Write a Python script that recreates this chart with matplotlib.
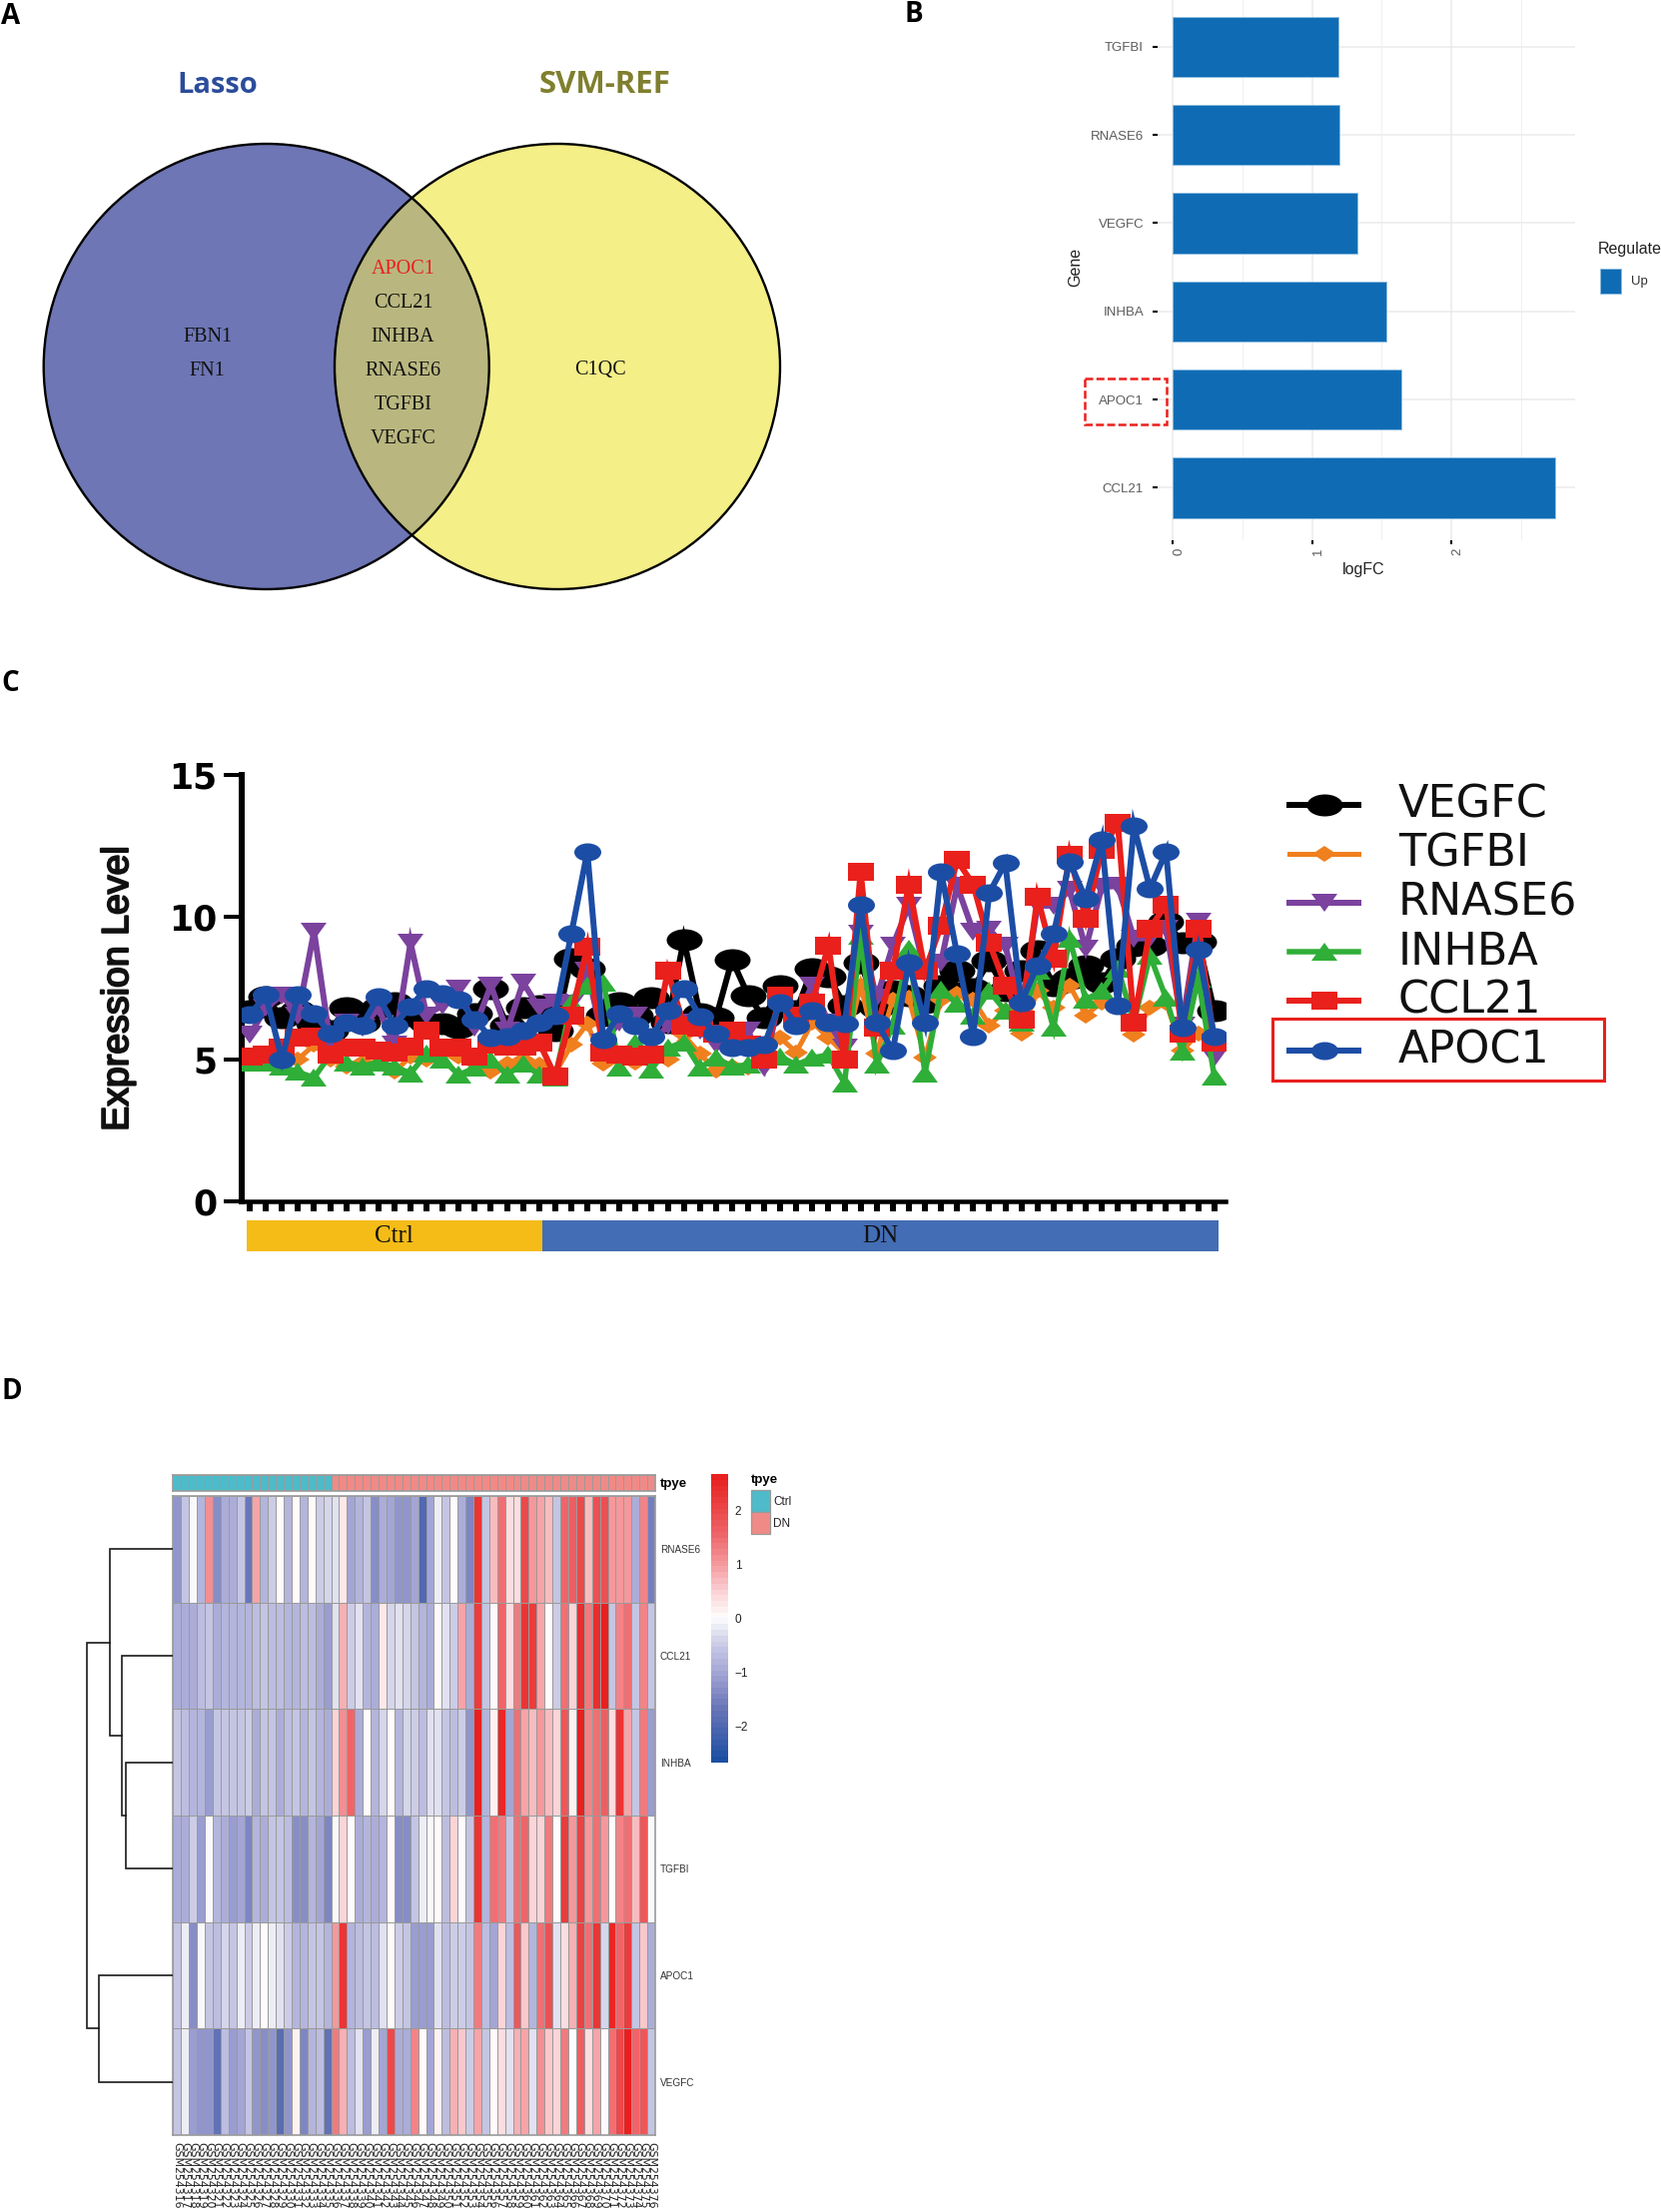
import numpy as np
import matplotlib
matplotlib.use('Agg')
import matplotlib.pyplot as plt
import matplotlib.patheffects as pe
from matplotlib.colors import LinearSegmentedColormap, ListedColormap
from matplotlib.markers import MarkerStyle
from matplotlib.patches import Circle, Rectangle
from matplotlib.transforms import Affine2D

W, H = 1663, 2215
PX = 0.72  # points per pixel at dpi 100

# panel A
lasso_only = ['FBN1', 'FN1']
shared = ['APOC1', 'CCL21', 'INHBA', 'RNASE6', 'TGFBI', 'VEGFC']
svm_only = ['C1QC']

# panel B
bar_genes = ['CCL21', 'APOC1', 'INHBA', 'VEGFC', 'RNASE6', 'TGFBI']
bar_logfc = [2.745, 1.64, 1.534, 1.325, 1.195, 1.19]

# panel C
vegfc = [6.7, 7.2, 6.45, 6.7, 6.25, 6.0, 6.8, 6.3, 6.8, 7.0, 6.55, 6.3, 6.25, 6.1, 6.6, 7.5, 6.2, 6.8, 6.9, 6.0,
         8.55, 8.2, 6.55, 7.0, 6.55, 7.15, 6.3, 9.2, 6.6, 6.45, 8.5, 7.25, 6.45, 7.6, 6.7, 8.2, 7.9, 6.9, 8.4, 6.8,
         7.4, 7.25, 7.0, 7.6, 8.1, 7.5, 8.45, 7.4, 8.1, 8.8, 7.6, 7.85, 8.3, 7.7, 8.55, 9.0, 9.0, 9.85, 9.1, 9.15, 6.7]
tgfbi = [5.1, 5.05, 5.15, 5.0, 5.5, 5.0, 4.75, 4.9, 4.85, 4.55, 5.1, 5.0, 5.25, 5.1, 4.9, 4.55, 4.85, 5.0, 4.8, 4.5,
         5.5, 6.25, 4.85, 5.0, 4.9, 5.0, 5.0, 5.85, 5.2, 4.6, 4.75, 4.7, 5.4, 5.75, 5.25, 6.3, 5.75, 5.2, 7.6, 5.2,
         7.1, 7.15, 5.05, 7.1, 7.3, 7.1, 6.2, 6.7, 5.9, 7.4, 6.8, 7.6, 6.55, 7.0, 6.9, 5.85, 6.8, 7.0, 5.3, 5.9, 5.3]
rnase6 = [5.85, 6.8, 7.25, 6.55, 9.5, 5.6, 6.3, 6.1, 6.8, 5.5, 9.1, 6.55, 6.9, 7.5, 6.1, 7.6, 6.0, 7.7, 6.8, 7.0,
          6.95, 8.1, 5.6, 6.3, 6.55, 5.5, 6.2, 6.3, 6.0, 5.5, 5.85, 6.0, 4.7, 7.25, 6.45, 7.6, 6.3, 5.4, 9.4, 7.15,
          9.0, 10.4, 8.1, 8.4, 11.1, 9.5, 9.55, 9.0, 6.7, 10.4, 10.4, 10.95, 8.9, 11.05, 11.1, 9.25, 9.25, 9.6, 6.2, 9.85, 5.05]
inhba = [4.9, 4.9, 4.75, 4.55, 4.35, 5.15, 4.9, 4.75, 4.9, 4.75, 4.5, 5.2, 5.0, 4.45, 4.7, 5.0, 4.45, 4.85, 4.45, 4.35,
         7.0, 7.6, 7.7, 4.7, 5.6, 4.65, 5.4, 5.6, 4.7, 5.05, 4.75, 4.8, 5.05, 5.1, 4.8, 5.05, 5.15, 4.15, 9.35, 4.8,
         6.2, 8.9, 4.5, 7.45, 6.95, 6.55, 7.4, 6.7, 6.3, 8.1, 6.1, 9.25, 7.1, 7.4, 8.2, 6.3, 8.65, 7.15, 5.27, 7.85, 4.4]
ccl21 = [5.1, 5.15, 5.4, 5.75, 5.8, 5.15, 5.4, 5.4, 5.3, 5.25, 5.45, 6.0, 5.4, 5.4, 5.1, 5.5, 5.45, 5.45, 5.6, 4.4,
         6.55, 8.95, 5.25, 5.15, 5.1, 5.15, 8.1, 6.2, 6.1, 5.9, 6.0, 5.5, 5.0, 7.25, 6.55, 7.0, 9.0, 5.0, 11.6, 6.1,
         8.1, 11.15, 8.1, 9.7, 12.0, 11.15, 9.1, 7.6, 6.4, 10.7, 8.55, 12.2, 9.95, 12.35, 13.3, 6.3, 9.6, 10.45, 5.9, 9.6, 5.6]
apoc1 = [6.56, 7.26, 5.0, 7.26, 6.6, 5.9, 6.3, 6.2, 7.2, 6.2, 6.85, 7.5, 7.3, 7.1, 6.4, 5.75, 5.8, 6.0, 6.3, 6.55,
         9.4, 12.3, 5.7, 6.6, 6.2, 5.8, 6.7, 7.5, 6.5, 5.9, 5.4, 5.4, 5.5, 7.0, 6.2, 6.7, 6.3, 6.25, 10.45, 6.3,
         5.3, 8.4, 6.3, 11.6, 8.7, 5.8, 10.85, 11.9, 7.0, 8.3, 9.4, 11.95, 10.65, 12.7, 6.9, 13.2, 11.0, 12.3, 6.1, 8.85, 5.8]
line_names = ['VEGFC', 'TGFBI', 'RNASE6', 'INHBA', 'CCL21', 'APOC1']
line_values = [vegfc, tgfbi, rnase6, inhba, ccl21, apoc1]
line_colors = ['#000000', '#F07F1E', '#7B429E', '#2FAE38', '#E9201C', '#1C4DA5']
line_markers = ['o', 'D', 'v', '^', 's', 'o']
marker_w = [36, 24, 26, 27, 27, 27]   # px, source figure was stretched sideways
marker_h = [22, 16, 18, 18, 18, 18]
line_px = [6, 5, 6, 5.5, 6, 6]

# panel D
hm_genes = ['RNASE6', 'CCL21', 'INHBA', 'TGFBI', 'APOC1', 'VEGFC']
hm_rnase6 = [-1.2, -0.6, -0.1, -0.8, 1.1, -1.3, -0.9, -0.9, -0.6, -1.7, 0.9, -0.8, -0.5, -0.0, -0.8, 0.05, -0.8, 0.1, -0.5, -0.4,
             -0.3, 0.3, -1, -0.8, -0.6, -1.3, -0.9, -1, -1.2, -1.2, -1, -2, -1, -0.2, -0.6, 0, -0.9, -1.5, 2.3, -0.6,
             0.7, 1.4, 0.4, 0.4, 2, 1, 0.9, 0.7, -0.6, 1.6, 1.7, 2, 0.7, 1.9, 1.9, 1, 1, 1, -0.9, 1.2, -1.6]
hm_ccl21 = [-0.9, -0.9, -0.9, -0.7, -0.6, -0.9, -0.8, -0.8, -0.8, -0.8, -0.7, -0.6, -0.7, -0.7, -0.8, -0.8, -0.7, -0.7, -0.9, -1.1,
            -0.3, 0.8, -0.5, -0.3, -0.8, -0.9, 0.3, -0.4, -0.3, -0.4, -0.6, -0.8, -0.9, 0.05, -0.3, -0.5, 0.9, -0.9, 2.2, -0.6,
            0.0, 1.6, 0.4, 1.3, 2.3, 2.2, 0.9, 0.05, -0.5, 1.5, 0.5, 2.4, 1.3, 2.4, 2.6, -0.6, 1.2, 1.5, -0.6, 1.2, -0.6]
hm_inhba = [-0.6, -0.7, -0.8, -0.8, -1.1, -0.6, -0.6, -0.6, -0.6, -0.5, -0.9, -0.6, -0.6, -0.9, -0.7, -0.6, -0.8, -0.6, -0.8, -0.9,
            0.5, 1.1, 1.6, -0.9, 0, -0.8, -0.4, 0, -0.8, -0.4, -0.5, -0.7, -0.3, -0.3, -0.6, -0.7, -0.5, -1.2, 2.6, -0.8,
            0.2, 2.5, -1, 1.4, 0.9, 0.7, 1, 0.7, 0.5, 1.8, 0.2, 2.6, 1.2, 1.4, 1.7, 0.4, 2.3, 0.9, -0.6, 1.3, -1.1]
hm_tgfbi = [-0.9, -0.9, -0.5, -1.1, -0.1, -0.8, -0.9, -1.1, -1, -1.5, -0.8, -0.9, -0.6, -0.6, -0.7, -1.3, -1.3, -0.8, -1, -1.4,
            -0.1, 0.5, 0, -0.9, -0.8, -0.9, -0.8, 0.1, -1.3, -1.3, -0.6, -0.2, -0.1, 0, -0.7, 0.5, 0.1, -0.6, 2.3, -0.8,
            1.4, 1.3, -0.6, 1.5, 1.6, 0.5, 0.5, 1.3, 0.1, 2.2, 1, 2.1, 1, 1.5, 1, 0, 1.2, 1.4, 0.7, 1.8, -0.1]
hm_apoc1 = [-0.6, -0.2, -1.3, -0.1, -0.6, -0.7, -0.4, -0.6, -0.2, -0.5, -0.2, 0, -0.2, -0.3, -0.5, -0.8, -0.8, -0.6, -0.6, -0.8,
            1, 2.3, -0.8, -0.7, -0.6, -0.7, -0.3, 0, -0.5, -0.6, -1.1, -1.1, -1.1, -0.3, -0.7, -0.5, -0.5, -0.6, 1.3, -0.7,
            -1, 0.5, -0.7, 1.8, 0.6, -0.8, 1.5, 1.9, -0.3, 0.4, 0.8, 2.1, 1.4, 2.3, -0.4, 2.5, 1.6, 2.2, -0.6, 0.6, -0.9]
hm_vegfc = [-0.6, -0.2, -1.1, -1.2, -1.2, -1.8, -0.7, -1.1, -1, -0.6, -1.2, -1.3, -1.2, -1.9, -1.2, 0.2, -1.5, -0.8, -0.7, -1.8,
            1.3, 0.8, -0.7, -0.3, -1.1, -0.2, -1, 2, -0.9, -0.9, 1.2, 0, -1, 0.2, -0.7, 0.8, 0.6, -0.5, 0.9, -0.6,
            0.05, 0.4, -0.3, 0.8, 0.9, -0.3, 1.1, 0.6, 0.5, 1.3, 0.0, 1.7, 0.4, 0.9, 0, 1.4, 2.0, 2.6, 1.6, 1.8, -0.6]
hm_values = [hm_rnase6, hm_ccl21, hm_inhba, hm_tgfbi, hm_apoc1, hm_vegfc]
n_ctrl_hm = 20
sample_ids = ['GSM2543%02d' % k for k in range(16, 77)]
# dendrogram merge heights
dend_inhba_tgfbi = 47
dend_ccl21 = 51
dend_rnase6 = 63
dend_apoc1_vegfc = 74
dend_root = 86


def px_axes(left, top, right, bottom):
    return fig.add_axes([left / W, 1 - bottom / H, (right - left) / W, (bottom - top) / H])


fig = plt.figure(figsize=(W / 100, H / 100), dpi=100, facecolor='white')
plt.rcParams['font.family'] = ['Liberation Sans', 'DejaVu Sans']

ov = fig.add_axes([0, 0, 1, 1], zorder=5)
ov.set_xlim(0, W)
ov.set_ylim(H, 0)
ov.axis('off')

# panel letters
for letter, lx, ly in [('A', 1, 16), ('B', 905, 14), ('C', 1, 684), ('D', 1, 1393)]:
    ov.text(lx, ly, letter, fontsize=20, fontweight='bold', va='center', ha='left', color='black',
            family=['Open Sans', 'Liberation Sans'])

# --- A: venn
rad = 223
left_c = Circle((266.7, 367), rad, fc='#6E76B5', ec='none')
right_c = Circle((558, 367), rad, fc='#F5EF88', ec='none')
ov.add_patch(left_c)
ov.add_patch(right_c)
lens = Circle((558, 367), rad, fc='#B9B77F', ec='none')
ov.add_patch(lens)
lens.set_clip_path(Circle((266.7, 367), rad, transform=ov.transData))
ov.add_patch(Circle((266.7, 367), rad, fc='none', ec='black', lw=1.7))
ov.add_patch(Circle((558, 367), rad, fc='none', ec='black', lw=1.7))
ov.text(218, 85, 'Lasso', color='#2B4C9B', fontsize=21, fontweight='bold', ha='center', va='center',
        family=['Open Sans', 'Liberation Sans'])
ov.text(606, 85, 'SVM-REF', color='#7F7F2E', fontsize=22.5, fontweight='bold', ha='center', va='center',
        family=['Open Sans', 'Liberation Sans'])
serif = ['Liberation Serif', 'DejaVu Serif']
for k, g in enumerate(shared):
    ov.text(403.5, 269.5 + 34 * k, g, color='#E8201F' if g == 'APOC1' else '#111111', fontsize=14.5,
            ha='center', va='center', family=serif)
for k, g in enumerate(lasso_only):
    ov.text(207.6, 337.5 + 34 * k, g, color='#111111', fontsize=14.5, ha='center', va='center', family=serif)
for g in svm_only:
    ov.text(601, 370.5, g, color='#111111', fontsize=14.5, ha='center', va='center', family=serif)

# --- B: logFC bars
axb = px_axes(1159, 0, 1577, 541.5)
axb.barh(range(len(bar_genes)), bar_logfc, height=0.68, color='#0F6CB4', edgecolor='#8DBBE0', linewidth=0.6, zorder=3)
axb.set_xlim(-0.11, 2.89)
axb.set_ylim(-0.6, 5.53)
axb.set_xticks([0, 1, 2])
axb.set_xticks([0.5, 1.5, 2.5], minor=True)
axb.set_yticks(range(len(bar_genes)))
axb.set_yticklabels(bar_genes)
axb.grid(True, which='major', color='#EBEBEB', lw=1.1)
axb.grid(True, which='minor', axis='x', color='#F0F0F0', lw=0.7)
axb.set_axisbelow(True)
axb.tick_params(axis='y', which='major', length=3.5, width=1.5, labelsize=9.5, labelcolor='#5A5A5A', pad=6.5)
axb.tick_params(axis='x', which='major', length=3, width=1.5, labelsize=9.5, labelcolor='#5A5A5A', pad=2, labelrotation=90)
axb.tick_params(axis='x', which='minor', length=0)
for lab in axb.get_xticklabels():
    lab.set_ha('left')
for s in axb.spines.values():
    s.set_visible(False)
ov.text(1365, 570, 'logFC', fontsize=11.5, ha='center', va='center', color='#222222')
ov.text(1076.5, 267, 'Gene', fontsize=11.5, rotation=90, ha='center', va='center', color='#222222')
ov.text(1600, 249.5, 'Regulate', fontsize=11.5, ha='left', va='center', color='#222222')
ov.add_patch(Rectangle((1602, 269), 21, 25, fc='#0F6CB4', ec='#8DBBE0', lw=0.6))
ov.text(1633, 282, 'Up', fontsize=9.5, ha='left', va='center', color='#333333')
ov.add_patch(Rectangle((1086, 379), 82, 46, fc='none', ec='#E9201C', lw=1.8, ls=(0, (3.2, 1.3))))

# --- C: expression lines
axc = px_axes(242, 776, 1227, 1203)
xs = np.arange(61)


def line_style(k):
    ms = 10
    t = Affine2D().scale(marker_w[k] * PX / ms, marker_h[k] * PX / ms)
    if line_markers[k] == 'D':
        t = Affine2D().scale(marker_w[k] * PX / ms / 1.414, marker_h[k] * PX / ms / 1.414)
    return dict(color=line_colors[k], lw=line_px[k] * PX, marker=MarkerStyle(line_markers[k], transform=t),
                markersize=ms, markeredgewidth=0, solid_joinstyle='miter')


for k in range(len(line_names)):
    axc.plot(xs, line_values[k], zorder=3 + k, **line_style(k))
axc.set_xlim(-0.5, 60.7)
axc.set_ylim(0, 15)
axc.set_yticks([0, 5, 10, 15])
axc.set_xticks(xs)
axc.set_xticklabels([])
for s in ['top', 'right']:
    axc.spines[s].set_visible(False)
axc.spines['left'].set_linewidth(6 * PX)
axc.spines['bottom'].set_linewidth(4.5 * PX)
axc.tick_params(axis='y', length=18 * PX, width=4 * PX, pad=5, labelsize=25)
axc.tick_params(axis='x', length=10 * PX, width=6 * PX)
for lab in axc.get_yticklabels():
    lab.set_fontweight('bold')
    lab.set_family(['DejaVu Sans'])
trans = axc.get_xaxis_transform()
axc.add_patch(Rectangle((-0.22, -0.117), 18.45, 0.0725, transform=trans, fc='#F5BC18', ec='none', clip_on=False))
axc.add_patch(Rectangle((18.23, -0.117), 42.04, 0.0725, transform=trans, fc='#436DB4', ec='none', clip_on=False))
axc.text(9.0, -0.081, 'Ctrl', transform=trans, fontsize=18, ha='center', va='center', family=serif, color='#111111')
axc.text(39.2, -0.081, 'DN', transform=trans, fontsize=18, ha='center', va='center', family=serif, color='#111111')
ov.text(118, 990, 'Expression Level', fontsize=27, rotation=90, ha='center', va='center', color='#111111',
        path_effects=[pe.withStroke(linewidth=1.4, foreground='#111111')])
for k, name in enumerate(line_names):
    ly = [806, 855, 904, 953, 1002, 1052][k]
    ov.plot([1291, 1325.5, 1360], [ly, ly, ly], markevery=[1], **line_style(k))
    ov.text(1400, ly, name, fontsize=32, ha='left', va='center', color='#111111', family=['DejaVu Sans'])
ov.add_patch(Rectangle((1274, 1020), 332, 62, fc='none', ec='#E9201C', lw=2.2))

# --- D: heatmap
vmax = 2.68
stops = [(0.0, '#1D4FA3'), (0.5 * (1 - 1.7 / vmax), '#6A76B8'), (0.5 * (1 - 1.0 / vmax), '#A6A8D6'),
         (0.5 * (1 - 0.4 / vmax), '#D3D3EA'), (0.5, '#FFFFFF'), (0.5 * (1 + 0.5 / vmax), '#FBD3D6'),
         (0.5 * (1 + 1.0 / vmax), '#F59CA0'), (0.5 * (1 + 1.6 / vmax), '#EE6468'), (1.0, '#E8201F')]
cmap = LinearSegmentedColormap.from_list('hm', stops, N=50)
axh = px_axes(173.3, 1498, 656, 2138)
axh.pcolormesh(np.array(hm_values), cmap=cmap, vmin=-vmax, vmax=vmax, edgecolors='#9A9A9A', linewidth=0.7)
axh.set_ylim(6, 0)
axh.set_xticks(np.arange(61) + 0.5)
axh.set_xticklabels(sample_ids, rotation=270, fontsize=7.9, family=['DejaVu Sans'], color='#222222')
axh.yaxis.tick_right()
axh.set_yticks(np.arange(6) + 0.5)
axh.set_yticklabels(hm_genes, fontsize=7.2, color='#333333')
axh.tick_params(length=0, pad=3.5)
axh.tick_params(axis='x', pad=5)
for s in axh.spines.values():
    s.set_edgecolor('#9A9A9A')
    s.set_linewidth(1.2)

axa = px_axes(173.3, 1477, 656, 1493)
group = np.array([[0] * n_ctrl_hm + [1] * (61 - n_ctrl_hm)])
axa.pcolormesh(group, cmap=ListedColormap(['#4DBBC9', '#F08A87']), edgecolors='#9A9A9A', linewidth=0.6)
axa.set_xticks([])
axa.set_yticks([0.5])
axa.yaxis.tick_right()
axa.set_yticklabels(['tpye'], fontsize=9.5, fontweight='bold')
axa.tick_params(length=0, pad=3.5)
for s in axa.spines.values():
    s.set_edgecolor('#9A9A9A')
    s.set_linewidth(1.2)

# dendrogram, height grows to the left
axd = px_axes(80, 1498, 173.3, 2138)
axd.set_xlim(93.3, 0)
axd.set_ylim(6, 0)
axd.axis('off')


def merge(ya, ha, yb, hb, h):
    axd.plot([ha, h, h, hb], [ya, ya, yb, yb], color='#1A1A1A', lw=1.2, solid_joinstyle='miter')
    return (ya + yb) / 2, h


n1 = merge(2.5, 0, 3.5, 0, dend_inhba_tgfbi)
n2 = merge(1.5, 0, n1[0], n1[1], dend_ccl21)
n3 = merge(0.5, 0, n2[0], n2[1], dend_rnase6)
n4 = merge(4.5, 0, 5.5, 0, dend_apoc1_vegfc)
merge(n3[0], n3[1], n4[0], n4[1], dend_root)

# colour key
axk = px_axes(712, 1476, 728.7, 1765)
gradient = np.linspace(vmax, -vmax, 50).reshape(-1, 1)
axk.imshow(gradient, cmap=cmap, vmin=-vmax, vmax=vmax, aspect='auto', extent=[0, 1, -vmax, vmax], interpolation='nearest')
axk.set_xticks([])
axk.yaxis.tick_right()
axk.set_yticks([-2, -1, 0, 1, 2])
axk.set_yticklabels(['\u22122', '\u22121', '0', '1', '2'], fontsize=8.5, color='#222222')
axk.tick_params(length=0, pad=5)
for s in axk.spines.values():
    s.set_visible(False)

ov.text(751.7, 1482, 'tpye', fontsize=9.5, fontweight='bold', ha='left', va='center')
ov.add_patch(Rectangle((751.7, 1492.3), 19.3, 22, fc='#4DBBC9', ec='#9A9A9A', lw=0.9))
ov.add_patch(Rectangle((751.7, 1514.3), 19.3, 22, fc='#F08A87', ec='#9A9A9A', lw=0.9))
ov.text(774, 1503.5, 'Ctrl', fontsize=8.5, ha='left', va='center', color='#222222')
ov.text(774, 1526, 'DN', fontsize=8.5, ha='left', va='center', color='#222222')

fig.savefig('out.png', dpi=100)
